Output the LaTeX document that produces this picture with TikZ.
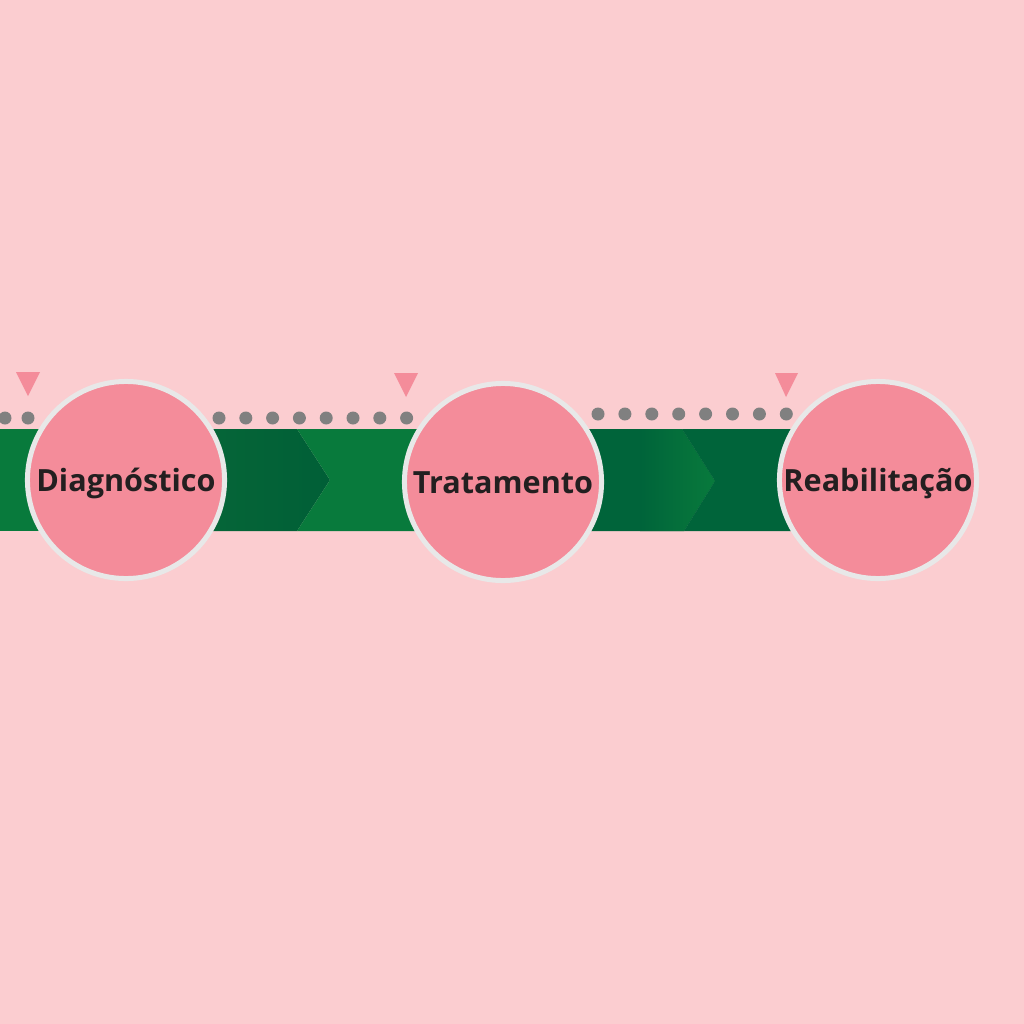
\documentclass[tikz,border=0pt]{standalone}
\usepackage{fontspec}
\usepackage{xcolor}
\usepackage{tikz}
\usetikzlibrary{positioning}
\setmainfont{Open Sans}

\definecolor{bgpink}{RGB}{251,205,208}
\definecolor{stagepink}{RGB}{244,140,154}
\definecolor{rimgray}{RGB}{232,232,232}
\definecolor{lightgreen}{RGB}{8,122,60}
\definecolor{midgreen}{RGB}{10,106,56}
\definecolor{darkgreen}{RGB}{0,100,58}
\definecolor{dotgray}{RGB}{128,128,128}
\definecolor{inkdark}{RGB}{35,31,32}

\begin{document}
\begin{tikzpicture}[
			x=0.01cm, y=-0.01cm,
			stage/.style={circle, fill=stagepink, draw=rimgray, line width=0.05cm,
				minimum size=1.97cm, inner sep=0pt, text=inkdark,
				text height=0.23cm, text depth=0.01cm,
				font=\fontsize{8.7}{10}\selectfont\bfseries},
			marker/.style={fill=stagepink},
			dot/.style={fill=dotgray}
			]
			% Background
			\fill[bgpink] (0,0) rectangle (1024,1024);
			\useasboundingbox (0,0) rectangle (1024,1024);
			% The band
			\def\top{429}
			\def\bot{531}
			\fill[lightgreen] (0,\top) rectangle (140,\bot);
			\shade[left color=midgreen, right color=darkgreen!95!black]
				(120,\top) -- (297,\top) -- (330,480) -- (297,\bot) -- (120,\bot) -- cycle;
			\fill[lightgreen] (297,\top) -- (440,\top) -- (440,\bot) -- (297,\bot) -- (330,480) -- cycle;
			\fill[darkgreen] (500,\top) -- (682,\top) -- (715,481) -- (684,\bot) -- (500,\bot) -- cycle;
			\shade[left color=darkgreen, right color=lightgreen]
				(640,\top) -- (682,\top) -- (715,481) -- (684,\bot) -- (640,\bot) -- cycle;
			\fill[darkgreen] (682,\top) -- (820,\top) -- (820,\bot) -- (684,\bot) -- (715,481) -- cycle;
			% Dots
			\foreach \x in {5,28}
				\fill[dot] (\x,418) circle (6.5);
			\foreach \i in {0,...,7}
				\fill[dot] (219+\i*26.8,418) circle (6.5);
			\foreach \i in {0,...,7}
				\fill[dot] (598+\i*26.9,414) circle (6.5);
			% Markers
			\fill[marker] (16,372) -- (40,372) -- (28,396) -- cycle;
			\fill[marker] (394,373) -- (418,373) -- (406,397) -- cycle;
			\fill[marker] (775,373) -- (798,373) -- (786,397) -- cycle;
			% Stages
			\node[stage] (diag) at (126,480) {Diagnóstico};
			\node[stage] (trat) at (503,482) {Tratamento};
			\node[stage] (reab) at (878,480) {Reabilitação};
		\end{tikzpicture}
\end{document}
